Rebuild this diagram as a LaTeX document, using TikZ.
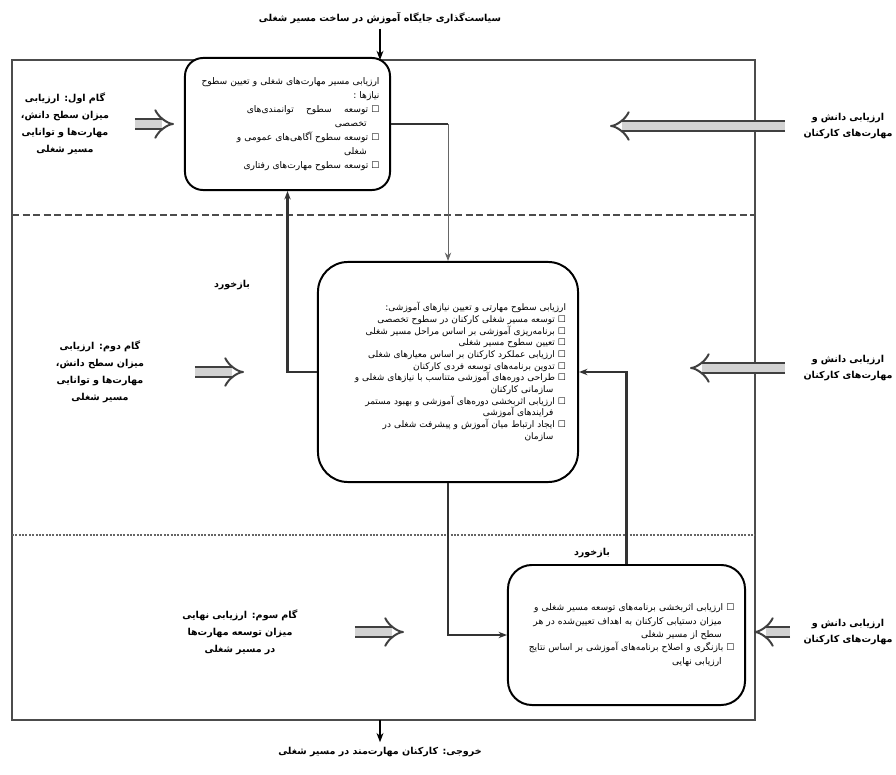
\documentclass[tikz,border=0pt]{standalone}
\usepackage{fontspec}
\usepackage{tikz}
\usetikzlibrary{arrows.meta,positioning,calc}
\newfontfamily\fafont[Script=Arabic]{DejaVu Sans}
\TeXXeTstate=1
\newcommand{\fa}[1]{\beginR #1\endR}

\begin{document}
\begin{tikzpicture}[x=0.025cm, y=-0.025cm,
    box/.style={draw, line width=1.4pt, fill=white, align=right, font=\fafont\fontsize{6.5}{10}\selectfont},
    note/.style={align=center, font=\fafont\bfseries\fontsize{6.8}{12}\selectfont},
    link/.style={line width=2pt, draw=black!80, -{Stealth[length=6pt]}},
    bigarrow/.style={double=gray!35, double distance=6pt, line width=1.4pt, draw=black!75, -{Implies}}]

    \useasboundingbox (0,0) rectangle (896,775);

    % Outer frame and borders between the phases
    \draw[line width=1.6pt, black!70] (12,60) rectangle (755,720);
    \draw[line width=1.8pt, dash pattern=on 5pt off 2.5pt, black!70] (12,215) -- (755,215);
    \draw[line width=1.4pt, densely dotted, black!60] (12,535) -- (755,535);

    % Input and output of the system
    \node[note] (title) at (380,18) {\fa{سیاست‌گذاری جایگاه آموزش در ساخت مسیر شغلی}};
    \node[note] (result) at (380,752) {\fa{خروجی: کارکنان مهارت‌مند در مسیر شغلی}};
    \coordinate (entry) at (380,60);
    \coordinate (exit) at (380,720);
    \draw[-{Stealth}, thick] (title) -- (entry);
    \draw[-{Stealth}, thick] (exit) -- (result);

    % Phase boxes
    \node[box, minimum width=5.125cm, minimum height=3.3cm, text width=4.6cm, rounded corners=0.45cm] (topbox) at (287.5,124) {%
        \fa{ارزیابی مسیر مهارت‌های شغلی و تعیین سطوح}\\
        \fa{نیازها :}\\
        \fa{☐ توسعه \quad سطوح \quad توانمندی‌های}\\
        \fa{\hspace*{1.4em}تخصصی}\\
        \fa{☐ توسعه سطوح آگاهی‌های عمومی و}\\
        \fa{\hspace*{1.4em}شغلی}\\
        \fa{☐ توسعه سطوح مهارت‌های رفتاری}};
    \node[box, minimum width=6.5cm, minimum height=5.5cm, text width=5.9cm, rounded corners=0.75cm,
        font=\fafont\fontsize{6.4}{8.3}\selectfont] (midbox) at (448,372) {%
        \fa{ارزیابی سطوح مهارتی و تعیین نیازهای آموزشی:}\\
        \fa{☐ توسعه مسیر شغلی کارکنان در سطوح تخصصی}\\
        \fa{☐ برنامه‌ریزی آموزشی بر اساس مراحل مسیر شغلی}\\
        \fa{☐ تعیین سطوح مسیر شغلی}\\
        \fa{☐ ارزیابی عملکرد کارکنان بر اساس معیارهای شغلی}\\
        \fa{☐ تدوین برنامه‌های توسعه فردی کارکنان}\\
        \fa{☐ طراحی دوره‌های آموزشی متناسب با نیازهای شغلی و}\\
        \fa{\hspace*{1.4em}سازمانی کارکنان}\\
        \fa{☐ ارزیابی اثربخشی دوره‌های آموزشی و بهبود مستمر}\\
        \fa{\hspace*{1.4em}فرایندهای آموزشی}\\
        \fa{☐ ایجاد ارتباط میان آموزش و پیشرفت شغلی در}\\
        \fa{\hspace*{1.4em}سازمان}};
    \node[box, minimum width=5.925cm, minimum height=3.5cm, text width=5.4cm, rounded corners=0.6cm,
        font=\fafont\fontsize{6.5}{9.5}\selectfont] (botbox) at (626.5,635) {%
        \fa{☐ ارزیابی اثربخشی برنامه‌های توسعه مسیر شغلی و}\\
        \fa{\hspace*{1.4em}میزان دستیابی کارکنان به اهداف تعیین‌شده در هر}\\
        \fa{\hspace*{1.4em}سطح از مسیر شغلی}\\
        \fa{☐ بازنگری و اصلاح برنامه‌های آموزشی بر اساس نتایج}\\
        \fa{\hspace*{1.4em}ارزیابی نهایی}};

    % Steps on the left
    \node[note, text width=2.5cm] (lft1) at (65,124) {%
        \fa{گام اول: ارزیابی}\\ \fa{میزان سطح دانش،}\\ \fa{مهارت‌ها و توانایی}\\ \fa{مسیر شغلی}};
    \node[note, text width=2.25cm] (lft2) at (100,372) {%
        \fa{گام دوم: ارزیابی}\\ \fa{میزان سطح دانش،}\\ \fa{مهارت‌ها و توانایی}\\ \fa{مسیر شغلی}};
    \node[note, text width=3cm] (lft3) at (240,632) {%
        \fa{گام سوم: ارزیابی نهایی}\\ \fa{میزان توسعه مهارت‌ها}\\ \fa{در مسیر شغلی}};

    % Assessments on the right
    \foreach \name/\y in {rgt1/126, rgt2/368, rgt3/632} {
        \node[note, text width=2.4cm] (\name) at (848,\y) {\fa{ارزیابی دانش و}\\ \fa{مهارت‌های کارکنان}};
    }
    \coordinate (tip1) at (610,126);
    \coordinate (tip2) at (690,368);

    % Block arrows
    \draw[bigarrow, shorten <=0.375cm, shorten >=0.25cm] (lft1.east) -- (lft1.east -| topbox.west);
    \draw[bigarrow, shorten <=1.125cm, shorten >=1.825cm] (lft2.east) -- (lft2.east -| midbox.west);
    \draw[bigarrow, shorten <=1.25cm, shorten >=2.575cm] (lft3.east) -- (lft3.east -| botbox.west);
    \draw[bigarrow, shorten <=0.25cm] (rgt1.west) -- (tip1);
    \draw[bigarrow, shorten <=0.25cm] (rgt2.west) -- (tip2);
    \draw[bigarrow, shorten <=0.125cm, shorten >=0.2cm] (rgt3.west) -- (rgt3.west -| botbox.east);

    % Connectors between the phases
    \draw[line width=2pt, black!80] (topbox.east) -- (topbox.east -| midbox.north) coordinate (bend);
    \draw[link, line width=0.7pt, black!60] (bend) -- (midbox.north);
    \draw[link] (midbox.west) -| (topbox.south);
    \draw[link] (midbox.south) |- (botbox.west);
    \draw[link] (botbox.north) |- (midbox.east);

    % Feedback labels
    \node[note] (fb1) at (232,285) {\fa{بازخورد}};
    \node[note] (fb2) at (592,553) {\fa{بازخورد}};
\end{tikzpicture}
\end{document}
